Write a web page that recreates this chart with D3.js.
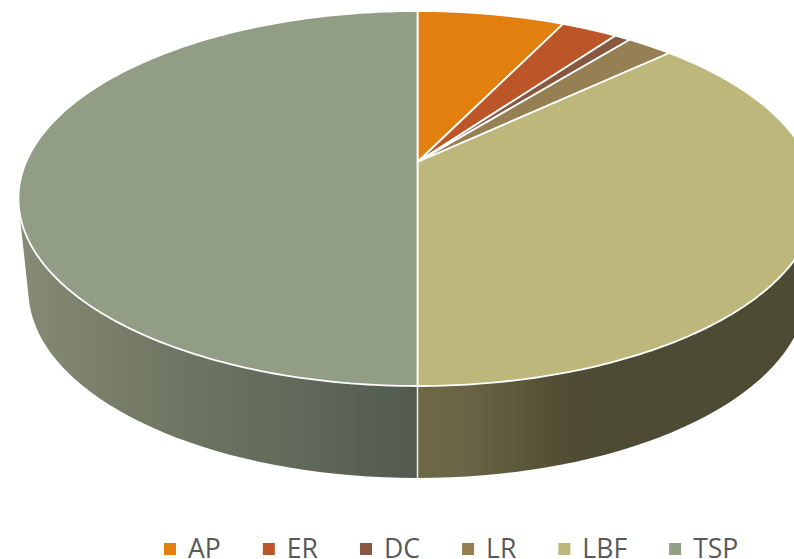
<!DOCTYPE html>
<html>
<head>
<meta charset="utf-8">
<style>
  html, body { margin: 0; padding: 0; background: #fff; overflow: hidden; }
  text { font-family: "Open Sans", sans-serif; }
</style>
<script src="https://cdn.jsdelivr.net/npm/d3@7"></script>
</head>
<body>
<div id="wrapper"></div>
<script>
const categories = ["AP", "ER", "DC", "LR", "LBF", "TSP"];
const shares = [7.2, 2.75, 0.78, 2.27, 37, 50];
const colors = ["#e1800f", "#bc5628", "#87573f", "#967f52", "#bdb77b", "#929d85"];

// side wall shading, read left to right
const tspWallOffsets = [0, 0.25, 0.45, 0.75, 1];
const tspWallColors = ["#858b75", "#777d68", "#6c7361", "#5f6758", "#525a50"];
const lbfWallOffsets = [0, 0.25, 0.52, 0.74, 0.93, 1];
const lbfWallColors = ["#6e6844", "#6a6546", "#5c5b3c", "#564f36", "#4d4b33", "#4d4b33"];

const width = 794
const height = 559

// the pie is drawn in perspective, so the centre sits above the middle of the ellipse
const topRing = {cx: 417.5, cy: 162, a: 391.4, b: 180.4, k: 0.1947}
const bottomRing = {cx: 417.5, cy: 253.6, a: 381.6, b: 180.7, k: 0.1947}

const svg = d3.select("#wrapper").append("svg")
    .attr("width", width)
    .attr("height", height)

const defs = svg.append("defs")
const colorScale = d3.scaleOrdinal().domain(categories).range(colors)

function project(ring, angle) {
    const u = Math.sin(angle)
    const v = -Math.cos(angle)
    const w = 1 - ring.k * v
    return [ring.cx + ring.a * u / w, ring.cy + ring.b * v / w]
}

function ringPoints(ring, start, end) {
    return d3.range(0, 181).map(i => project(ring, start + (end - start) * i / 180))
}

const slices = d3.pie().sort(null).value(d => d)(shares)
const line = d3.line()

drawWalls()
drawTop()
drawLegend()

function drawWalls() {
    const hull = d3.polygonHull([
        ...ringPoints(topRing, 0, 2 * Math.PI),
        ...ringPoints(bottomRing, 0, 2 * Math.PI),
    ])
    const hullPath = "M" + hull.join("L") + "Z"
    const front = slices[categories.indexOf("TSP")].startAngle
    const seamTop = project(topRing, front)
    const seamBottom = project(bottomRing, front)
    const left = d3.min(hull, d => d[0])
    const walls = [
        {id: "tsp", x0: left, x1: seamTop[0], offsets: tspWallOffsets, stops: tspWallColors},
        {id: "lbf", x0: seamTop[0], x1: 600, offsets: lbfWallOffsets, stops: lbfWallColors},
    ]
    walls.forEach(wall => {
        const gradient = defs.append("linearGradient")
            .attr("id", `wall-${wall.id}`)
            .attr("gradientUnits", "userSpaceOnUse")
            .attr("x1", wall.x0)
            .attr("x2", wall.x1)
            .attr("y1", 0)
            .attr("y2", 0)
        gradient.selectAll("stop")
            .data(wall.offsets)
            .join("stop")
            .attr("offset", d => d)
            .attr("stop-color", (d, i) => wall.stops[i])
        defs.append("clipPath")
            .attr("id", `clip-${wall.id}`)
            .append("rect")
            .attr("x", wall.id === "tsp" ? 0 : seamTop[0])
            .attr("y", 0)
            .attr("width", wall.id === "tsp" ? seamTop[0] : width)
            .attr("height", height)
        svg.append("path")
            .attr("d", hullPath)
            .attr("fill", `url(#wall-${wall.id})`)
            .attr("clip-path", `url(#clip-${wall.id})`)
    })
    svg.append("line")
        .attr("x1", seamTop[0])
        .attr("x2", seamBottom[0])
        .attr("y1", seamTop[1])
        .attr("y2", seamBottom[1])
        .attr("stroke", "#fff")
        .attr("stroke-opacity", 0.85)
        .attr("stroke-width", 1.5)
}

function drawTop() {
    svg.append("g")
        .selectAll("path")
        .data(slices)
        .join("path")
        .attr("d", d => line([[topRing.cx, topRing.cy], ...ringPoints(topRing, d.startAngle, d.endAngle)]) + "Z")
        .attr("fill", (d, i) => colorScale(categories[i]))
        .attr("stroke", "#fff")
        .attr("stroke-width", 1.8)
        .attr("stroke-linejoin", "round")
}

function drawLegend() {
    const stretch = 0.95
    const textGap = 24
    const itemGap = 42
    let x = 164
    const legend = svg.append("g")
    categories.forEach(name => {
        legend.append("rect")
            .attr("x", x)
            .attr("y", 543)
            .attr("width", 12)
            .attr("height", 12)
            .attr("fill", colorScale(name))
        const label = legend.append("text")
            .text(name)
            .attr("transform", `translate(${x + textGap},558) scale(${stretch},1)`)
            .attr("font-size", 28)
            .attr("fill", "#595959")
        x += textGap + label.node().getComputedTextLength() * stretch + itemGap
    })
}
</script>
</body>
</html>
